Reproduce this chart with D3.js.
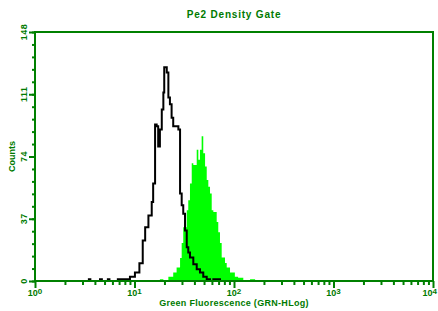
<!DOCTYPE html>
<html>
<head>
<meta charset="utf-8">
<script src="https://cdn.jsdelivr.net/npm/d3@7"></script>
<style>
  body { margin: 0; background: #fff; }
  text { font-family: "Liberation Sans", Arial, sans-serif; fill: #007a00; }
</style>
</head>
<body>
<div id="chart"></div>
<script>
// Data: step histograms, left bin edge (fluorescence) and count
const controlEdges = [3.4, 3.6, 4.5, 4.7, 5.4, 5.6, 6.8, 7.15, 9.0, 10.1, 11.2, 12.1, 12.8, 13.8, 14.9, 15.4, 16.1, 16.7, 17.3, 18.0, 18.8, 19.5, 19.9, 21.1, 21.9, 22.7, 23.6, 24.5, 27.6, 28.7, 29.8, 30.9, 32.2, 33.5, 34.7, 36.1, 39.0, 42.2, 45.5, 49.1, 53.2, 57.4, 60.1, 62.0, 72.3, 75.0]
const controlCounts = [1, 0, 1, 0, 1, 0, 1, 1, 2.5, 5, 10.5, 24, 32, 39, 47, 58, 93, 92, 80, 90, 102, 112, 127, 124, 109, 105, 97, 92, 90, 52, 45, 40, 30, 20, 17, 14, 10, 7, 5, 2.5, 1, 0, 0, 1, 0, 0]

const stainedEdges = [18.0, 19.5, 21.9, 24.5, 26.5, 28.7, 29.8, 30.9, 33.5, 34.7, 36.1, 37.6, 39.0, 42.2, 43.8, 45.5, 47.3, 49.1, 51.2, 53.2, 55.2, 57.4, 59.7, 62.0, 67.0, 69.5, 72.3, 75.2, 81.2, 84.5, 91.2, 102, 110, 124, 145, 163]
const stainedCounts = [1, 0, 2.5, 5, 8, 13.7, 22.6, 32, 42, 48, 58, 70, 69, 78, 72, 78, 86, 76, 68, 60, 56, 52, 42, 41, 35, 29, 22.6, 14, 10.7, 8, 5, 2.5, 2, 0, 1, 0]

const yTicks = [0, 37, 74, 111, 148]
const xDecades = [1, 10, 100, 1000, 10000]
const xTickExp = ['0', '1', '2', '3', '4']

const title = 'Pe2 Density Gate'
const xTitle = 'Green Fluorescence (GRN-HLog)'
const yTitle = 'Counts'

function draw(){
    const dims = { width: 438, height: 311, left: 35, right: 433, top: 32, bottom: 281 }

    const xScale = d3.scaleLog()
        .domain([1, 10000])
        .range([dims.left, dims.right])
    const yScale = d3.scaleLinear()
        .domain([0, 148])
        .range([dims.bottom, dims.top])

    const svg = d3.select('#chart')
        .append('svg')
        .attr('width', dims.width)
        .attr('height', dims.height)

    const green = '#008000'

    // histograms
    const stained = stainedEdges.map((e, i) => ({ x: e, y: stainedCounts[i] }))
    const control = controlEdges.map((e, i) => ({ x: e, y: controlCounts[i] }))

    const area = d3.area()
        .x(d => xScale(d.x))
        .y0(yScale(0))
        .y1(d => yScale(d.y))
        .curve(d3.curveStepAfter)
    svg.append('path')
        .datum(stained)
        .attr('d', area)
        .attr('fill', '#00ff00')

    const line = d3.line()
        .x(d => xScale(d.x))
        .y(d => yScale(d.y))
        .curve(d3.curveStepAfter)
    svg.append('path')
        .datum(control)
        .attr('d', line)
        .attr('fill', 'none')
        .attr('stroke', '#000')
        .attr('stroke-width', 2)

    // axes
    const minorX = []
    xDecades.slice(0, -1).forEach(d => { for (let k = 2; k < 10; k++) minorX.push(d * k) })

    svg.append('g')
        .attr('transform', `translate(0, ${dims.bottom})`)
        .call(d3.axisBottom(xScale).tickValues(minorX).tickSize(4).tickFormat(''))
    svg.append('g')
        .attr('transform', `translate(0, ${dims.bottom})`)
        .call(d3.axisBottom(xScale).tickValues(xDecades).tickSize(7).tickFormat(''))

    const minorY = d3.range(0, 148.01, 7.4)
    svg.append('g')
        .attr('transform', `translate(${dims.left}, 0)`)
        .call(d3.axisLeft(yScale).tickValues(minorY).tickSize(3).tickFormat(''))
    svg.append('g')
        .attr('transform', `translate(${dims.left}, 0)`)
        .call(d3.axisLeft(yScale).tickValues(yTicks).tickSize(6).tickFormat(''))

    svg.selectAll('.domain').remove()
    svg.selectAll('.tick line').attr('stroke', green).attr('stroke-width', 2)

    // frame
    svg.append('rect')
        .attr('x', dims.left)
        .attr('y', dims.top)
        .attr('width', dims.right - dims.left)
        .attr('height', dims.bottom - dims.top)
        .attr('fill', 'none')
        .attr('stroke', green)
        .attr('stroke-width', 2)

    // tick labels
    const last = xDecades.length - 1
    const xl = svg.append('g')
        .selectAll('text')
        .data(xDecades)
        .join('text')
        .attr('x', (d, i) => i === last ? xScale(d) + 4 : xScale(d))
        .attr('y', 296)
        .attr('text-anchor', (d, i) => i === last ? 'end' : 'middle')
        .style('font-size', '9px')
        .style('font-weight', 'bold')
    xl.append('tspan').text('10')
    xl.append('tspan').attr('dy', -2).style('font-size', '8px').text((d, i) => xTickExp[i])

    svg.append('g')
        .selectAll('text')
        .data(yTicks)
        .join('text')
        .attr('transform', d => `translate(27, ${yScale(d)}) rotate(-90)`)
        .attr('text-anchor', 'middle')
        .style('font-size', '9px')
        .style('font-weight', 'bold')
        .style('letter-spacing', '0.5px')
        .text(d => d)

    // titles
    svg.append('text')
        .attr('x', (dims.left + dims.right) / 2)
        .attr('y', 18)
        .attr('text-anchor', 'middle')
        .style('font-size', '10px')
        .style('font-weight', 'bold')
        .style('letter-spacing', '0.8px')
        .text(title)

    svg.append('text')
        .attr('x', (dims.left + dims.right) / 2)
        .attr('y', 306)
        .attr('text-anchor', 'middle')
        .style('font-size', '9px')
        .style('font-weight', 'bold')
        .style('letter-spacing', '0.3px')
        .text(xTitle)

    svg.append('text')
        .attr('transform', `translate(15, ${(dims.top + dims.bottom) / 2}) rotate(-90)`)
        .attr('text-anchor', 'middle')
        .style('font-size', '9px')
        .style('font-weight', 'bold')
        .text(yTitle)
}
draw()
</script>
</body>
</html>
